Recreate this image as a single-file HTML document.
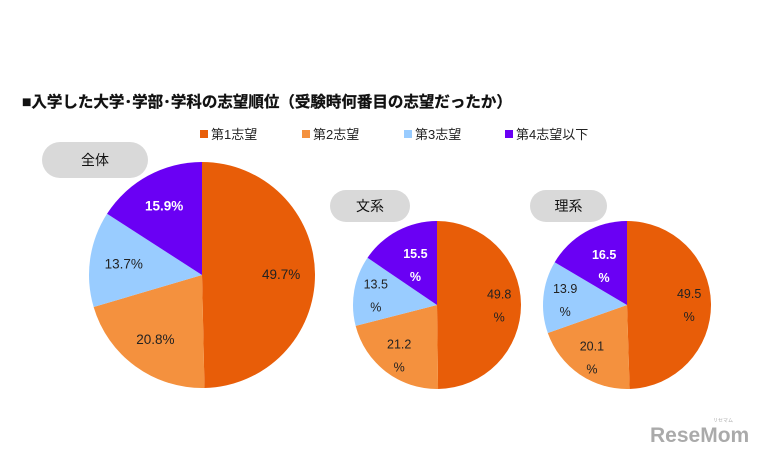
<!DOCTYPE html>
<html><head><meta charset="utf-8"><style>
body{margin:0;background:#fff;}
svg text{font-family:"Liberation Sans","Noto Sans CJK JP",sans-serif;}
</style></head><body>
<svg width="758" height="452" viewBox="0 0 758 452" xmlns="http://www.w3.org/2000/svg">
<text x="22" y="107" font-size="15.5" font-weight="bold" fill="#111" stroke="#111" stroke-width="0.3">■入学した大学･学部･学科の志望順位（受験時何番目の志望だったか）</text>
<g id="legend"></g>
<g id="pies"></g>
<g opacity="0.55"><text x="650" y="442" font-size="21" font-weight="bold" fill="#666">ReseMom</text><text x="713" y="422" font-size="5" fill="#666">リセマム</text></g>
</svg>
<script>
const categories=["第1志望","第2志望","第3志望","第4志望以下"];
const colors=["#E85D08","#F4913E","#99CCFF","#6A00F4"];
const groups=["全体","文系","理系"];
const valuesAll=[49.7,20.8,13.7,15.9];
const valuesBun=[49.8,21.2,13.5,15.5];
const valuesRi=[49.5,20.1,13.9,16.5];
const NS="http://www.w3.org/2000/svg";
function mk(t,a,p){const e=document.createElementNS(NS,t);for(const k in a)e.setAttribute(k,a[k]);p.appendChild(e);return e;}
const leg=document.getElementById('legend');
const legX=[200,302,404,505];
categories.forEach((c,i)=>{
  const g=mk('g',{},leg);
  
  
  mk('rect',{x:legX[i],y:130,width:8,height:8,fill:colors[i]},g);
  const t=mk('text',{x:legX[i]+11,y:139,'font-size':13,fill:'#222'},g);t.textContent=c;
});
const pies=document.getElementById('pies');
const cfg=[
 {vals:valuesAll,cx:202,cy:275,r:113,split:false,pill:[42,142,106,36],fs:13.5,lr:0.7},
 {vals:valuesBun,cx:437,cy:305,r:84,split:true,pill:[330,190,80,32],fs:12.5,lr:0.74},
 {vals:valuesRi,cx:627,cy:305,r:84,split:true,pill:[530,190,77,32],fs:12.5,lr:0.74}
];
cfg.forEach((c,gi)=>{
  const g=mk('g',{},pies);
  
  
  const [px,py,pw,ph]=c.pill;
  const pr=mk('rect',{x:px,y:py,width:pw,height:ph,rx:ph/2,fill:'#d9d9d9'},g);
  
  
  const pt=mk('text',{x:px+pw/2,y:py+ph/2+5,'font-size':14,'text-anchor':'middle',fill:'#111'},g);pt.textContent=groups[gi];
  const tot=c.vals.reduce((a,b)=>a+b,0);
  let a0=0;
  c.vals.forEach((v,i)=>{
    const a1=a0+v/tot*2*Math.PI;
    const p=(a)=>[c.cx+c.r*Math.sin(a),c.cy-c.r*Math.cos(a)];
    const [x0,y0]=p(a0),[x1,y1]=p(a1);
    const s=mk('path',{d:`M${c.cx},${c.cy}L${x0},${y0}A${c.r},${c.r} 0 ${a1-a0>Math.PI?1:0} 1 ${x1},${y1}Z`,fill:colors[i]},g);
    
    
    const am=(a0+a1)/2;
    const lr=(c.split&&i===3)?0.55:c.lr;
    const lx=c.cx+c.r*lr*Math.sin(am),ly=c.cy-c.r*lr*Math.cos(am);
    const col=i===3?'#fff':'#222',fw=i===3?'bold':'normal';
    if(c.split){
      const t1=mk('text',{x:lx,y:ly-6,'font-size':c.fs,'text-anchor':'middle',fill:col,'font-weight':fw},g);t1.textContent=v.toFixed(1);
      const t2=mk('text',{x:lx,y:ly+17,'font-size':c.fs,'text-anchor':'middle',fill:col,'font-weight':fw},g);t2.textContent='%';
    }else{
      const t=mk('text',{x:lx,y:ly+5,'font-size':c.fs,'text-anchor':'middle',fill:col,'font-weight':fw},g);t.textContent=v.toFixed(1)+'%';
    }
    a0=a1;
  });
});
</script>
</body></html>
